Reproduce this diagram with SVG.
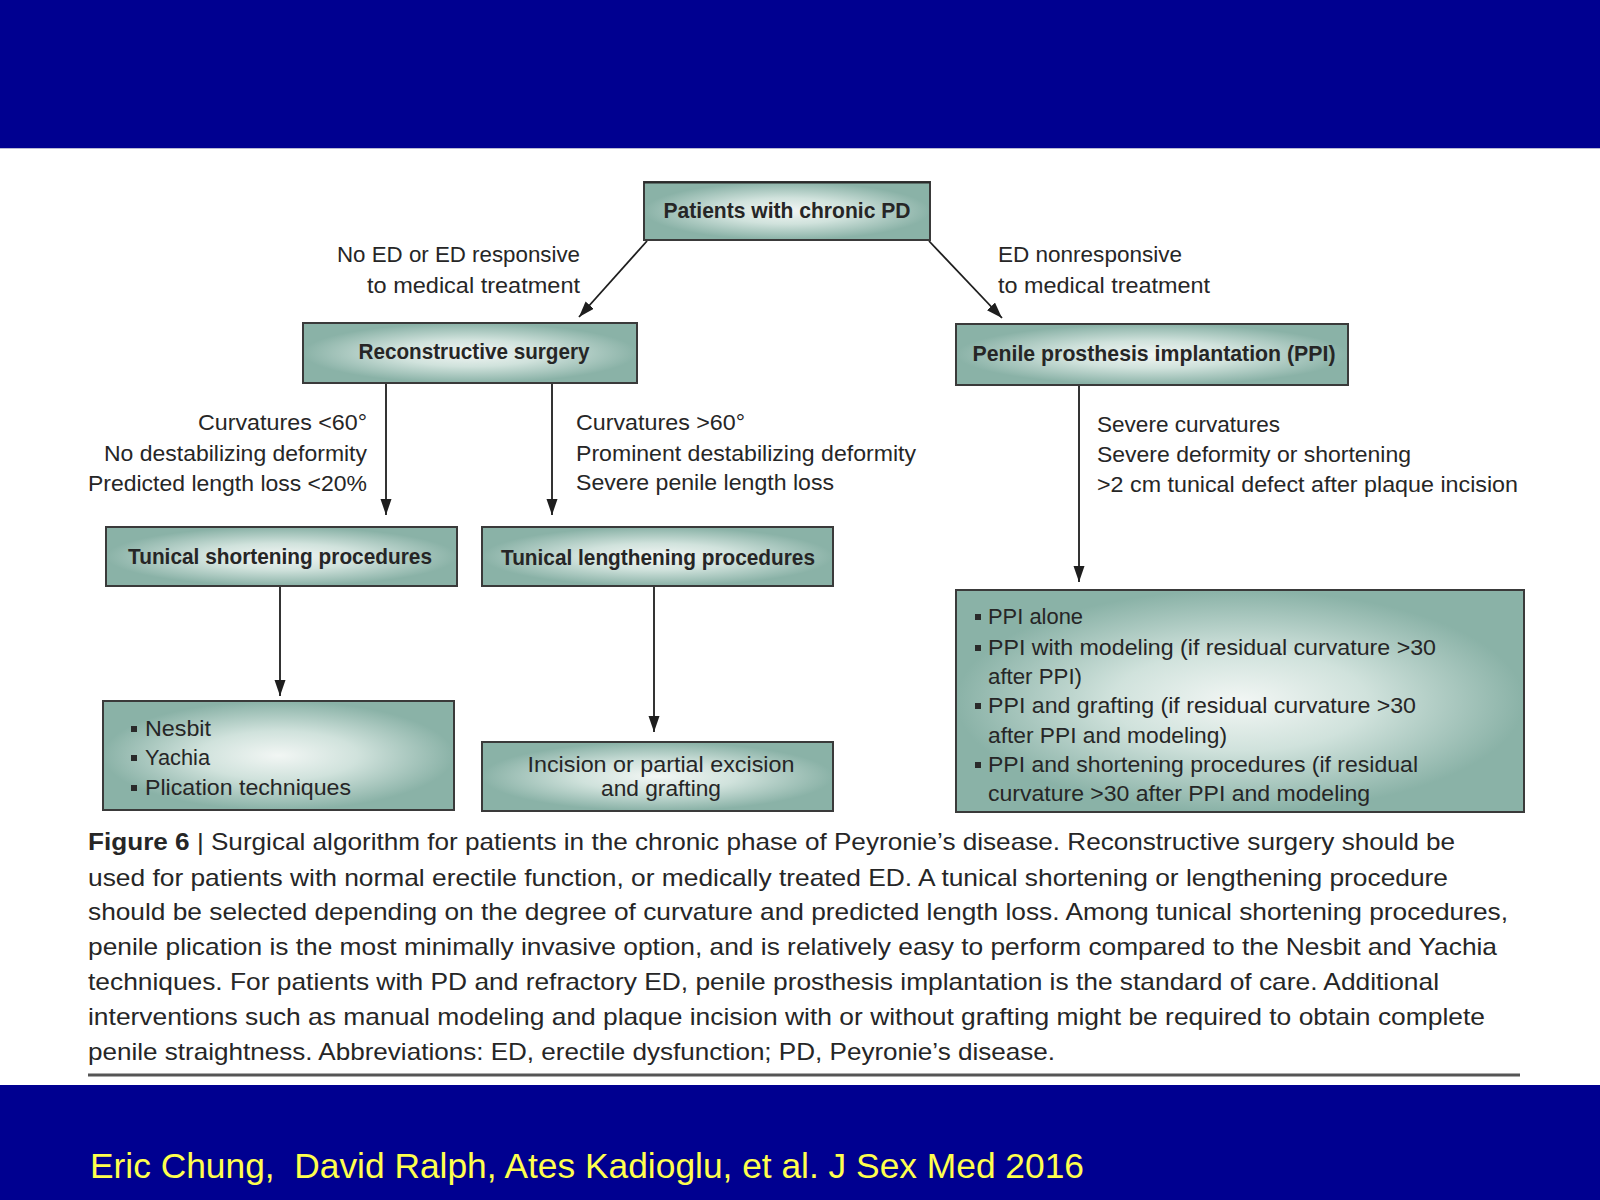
<svg xmlns="http://www.w3.org/2000/svg" width="1600" height="1200" viewBox="0 0 1600 1200">
<defs>
<radialGradient id="boxfill" cx="50%" cy="50%" r="50%">
<stop offset="0%" stop-color="#f2f6f4"/>
<stop offset="45%" stop-color="#d0e2dc"/>
<stop offset="100%" stop-color="#8ab2a7"/>
</radialGradient>
<marker id="arr" markerUnits="userSpaceOnUse" markerWidth="18" markerHeight="12" refX="16" refY="5.5" orient="auto">
<path d="M0,0 L16,5.5 L0,11 z" fill="#1e1e1e"/>
</marker>
</defs>
<style>
.box{fill:url(#boxfill);stroke:#3a3a3a;stroke-width:2}
.bl{font-family:"Liberation Sans",Arial,sans-serif;font-weight:bold;font-size:22px;fill:#262626;text-anchor:middle}
.lb{font-family:"Liberation Sans",Arial,sans-serif;font-size:22px;fill:#262626}
.r{text-anchor:end}
.m{text-anchor:middle}
.cap{font-family:"Liberation Sans",Arial,sans-serif;font-size:24px;fill:#262626}
.con{stroke:#1e1e1e;stroke-width:1.8;fill:none;marker-end:url(#arr)}
.bul{fill:#2a2a2a}
</style>
<rect x="0" y="0" width="1600" height="1200" fill="#ffffff"/>
<rect x="0" y="0" width="1600" height="148" fill="#000090"/>
<line x1="0" y1="148.5" x2="1600" y2="148.5" stroke="#b8b8d4" stroke-width="1"/>
<rect x="0" y="1085" width="1600" height="115" fill="#000090"/>
<text x="90" y="1178" font-family="Liberation Sans, Arial, sans-serif" font-size="35" fill="#ffff4d" textLength="994" lengthAdjust="spacingAndGlyphs" xml:space="preserve">Eric Chung,  David Ralph, Ates Kadioglu, et al. J Sex Med 2016</text>

<g id="connectors">
<line class="con" x1="647" y1="241" x2="579" y2="317"/>
<line class="con" x1="929" y1="241" x2="1002" y2="318"/>
<line class="con" x1="386" y1="383" x2="386" y2="515"/>
<line class="con" x1="552" y1="380" x2="552" y2="515"/>
<line class="con" x1="280" y1="586" x2="280" y2="696"/>
<line class="con" x1="654" y1="586" x2="654" y2="732"/>
<line class="con" x1="1079" y1="385" x2="1079" y2="582"/>
</g>

<g id="labels">
<text class="lb r" x="580" y="262" textLength="243" lengthAdjust="spacingAndGlyphs">No ED or ED responsive</text>
<text class="lb r" x="580" y="293" textLength="213" lengthAdjust="spacingAndGlyphs">to medical treatment</text>
<text class="lb" x="998" y="262" textLength="184" lengthAdjust="spacingAndGlyphs">ED nonresponsive</text>
<text class="lb" x="998" y="293" textLength="212" lengthAdjust="spacingAndGlyphs">to medical treatment</text>
<text class="lb r" x="367" y="430" textLength="169" lengthAdjust="spacingAndGlyphs">Curvatures &lt;60°</text>
<text class="lb r" x="367" y="461" textLength="263" lengthAdjust="spacingAndGlyphs">No destabilizing deformity</text>
<text class="lb r" x="367" y="491" textLength="279" lengthAdjust="spacingAndGlyphs">Predicted length loss &lt;20%</text>
<text class="lb" x="576" y="430" textLength="169" lengthAdjust="spacingAndGlyphs">Curvatures &gt;60°</text>
<text class="lb" x="576" y="461" textLength="340" lengthAdjust="spacingAndGlyphs">Prominent destabilizing deformity</text>
<text class="lb" x="576" y="490" textLength="258" lengthAdjust="spacingAndGlyphs">Severe penile length loss</text>
<text class="lb" x="1097" y="432" textLength="183" lengthAdjust="spacingAndGlyphs">Severe curvatures</text>
<text class="lb" x="1097" y="462" textLength="314" lengthAdjust="spacingAndGlyphs">Severe deformity or shortening</text>
<text class="lb" x="1097" y="492" textLength="421" lengthAdjust="spacingAndGlyphs">&gt;2 cm tunical defect after plaque incision</text>
</g>

<g id="node-patients">
<rect class="box" x="644" y="182" width="286" height="58"/>
<line x1="644" y1="182.5" x2="930" y2="182.5" stroke="#2a2a2a" stroke-width="2"/>
<text class="bl" x="787" y="218" textLength="247" lengthAdjust="spacingAndGlyphs">Patients with chronic PD</text>
</g>
<g id="node-reconstructive">
<rect class="box" x="303" y="323" width="334" height="60"/>
<text class="bl" x="474" y="359" textLength="231" lengthAdjust="spacingAndGlyphs">Reconstructive surgery</text>
</g>
<g id="node-ppi">
<rect class="box" x="956" y="324" width="392" height="61"/>
<text class="bl" x="1154" y="361" textLength="363" lengthAdjust="spacingAndGlyphs">Penile prosthesis implantation (PPI)</text>
</g>
<g id="node-shortening">
<rect class="box" x="106" y="527" width="351" height="59"/>
<text class="bl" x="280" y="564" textLength="304" lengthAdjust="spacingAndGlyphs">Tunical shortening procedures</text>
</g>
<g id="node-lengthening">
<rect class="box" x="482" y="527" width="351" height="59"/>
<text class="bl" x="658" y="565" textLength="314" lengthAdjust="spacingAndGlyphs">Tunical lengthening procedures</text>
</g>
<g id="node-nesbit">
<rect class="box" x="103" y="701" width="351" height="109"/>
<rect class="bul" x="131" y="726" width="6" height="6"/>
<rect class="bul" x="131" y="755" width="6" height="6"/>
<rect class="bul" x="131" y="785" width="6" height="6"/>
<text class="lb" x="145" y="736" textLength="66" lengthAdjust="spacingAndGlyphs">Nesbit</text>
<text class="lb" x="145" y="765" textLength="65" lengthAdjust="spacingAndGlyphs">Yachia</text>
<text class="lb" x="145" y="795" textLength="206" lengthAdjust="spacingAndGlyphs">Plication techniques</text>
</g>
<g id="node-incision">
<rect class="box" x="482" y="742" width="351" height="69"/>
<text class="lb m" x="661" y="772" textLength="267" lengthAdjust="spacingAndGlyphs">Incision or partial excision</text>
<text class="lb m" x="661" y="796" textLength="120" lengthAdjust="spacingAndGlyphs">and grafting</text>
</g>
<g id="node-ppi-options">
<rect class="box" x="956" y="590" width="568" height="222"/>
<rect class="bul" x="975" y="614" width="6" height="6"/>
<rect class="bul" x="975" y="645" width="6" height="6"/>
<rect class="bul" x="975" y="703" width="6" height="6"/>
<rect class="bul" x="975" y="762" width="6" height="6"/>
<text class="lb" x="988" y="624" textLength="95" lengthAdjust="spacingAndGlyphs">PPI alone</text>
<text class="lb" x="988" y="655" textLength="448" lengthAdjust="spacingAndGlyphs">PPI with modeling (if residual curvature &gt;30</text>
<text class="lb" x="988" y="684" textLength="94" lengthAdjust="spacingAndGlyphs">after PPI)</text>
<text class="lb" x="988" y="713" textLength="428" lengthAdjust="spacingAndGlyphs">PPI and grafting (if residual curvature &gt;30</text>
<text class="lb" x="988" y="743" textLength="239" lengthAdjust="spacingAndGlyphs">after PPI and modeling)</text>
<text class="lb" x="988" y="772" textLength="430" lengthAdjust="spacingAndGlyphs">PPI and shortening procedures (if residual</text>
<text class="lb" x="988" y="801" textLength="382" lengthAdjust="spacingAndGlyphs">curvature &gt;30 after PPI and modeling</text>
</g>

<g id="caption">
<text class="cap" x="88" y="850" textLength="1367" lengthAdjust="spacingAndGlyphs"><tspan font-weight="bold">Figure 6</tspan> | Surgical algorithm for patients in the chronic phase of Peyronie’s disease. Reconstructive surgery should be</text>
<text class="cap" x="88" y="886" textLength="1360" lengthAdjust="spacingAndGlyphs">used for patients with normal erectile function, or medically treated ED. A tunical shortening or lengthening procedure</text>
<text class="cap" x="88" y="920" textLength="1420" lengthAdjust="spacingAndGlyphs">should be selected depending on the degree of curvature and predicted length loss. Among tunical shortening procedures,</text>
<text class="cap" x="88" y="955" textLength="1409" lengthAdjust="spacingAndGlyphs">penile plication is the most minimally invasive option, and is relatively easy to perform compared to the Nesbit and Yachia</text>
<text class="cap" x="88" y="990" textLength="1351" lengthAdjust="spacingAndGlyphs">techniques. For patients with PD and refractory ED, penile prosthesis implantation is the standard of care. Additional</text>
<text class="cap" x="88" y="1025" textLength="1397" lengthAdjust="spacingAndGlyphs">interventions such as manual modeling and plaque incision with or without grafting might be required to obtain complete</text>
<text class="cap" x="88" y="1060" textLength="967" lengthAdjust="spacingAndGlyphs">penile straightness. Abbreviations: ED, erectile dysfunction; PD, Peyronie’s disease.</text>
<line x1="88" y1="1075" x2="1520" y2="1075" stroke="#555555" stroke-width="3"/>
</g>
</svg>
